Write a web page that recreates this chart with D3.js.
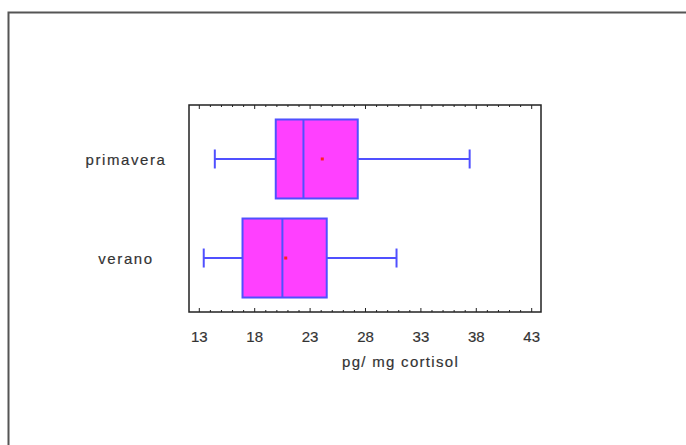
<!DOCTYPE html>
<html><head><meta charset="utf-8">
<script src="https://cdnjs.cloudflare.com/ajax/libs/d3/7.8.5/d3.min.js"></script>
<style>body{margin:0;background:#fff}svg{display:block}text{font-family:"Liberation Sans",Arial,sans-serif;fill:#333;stroke:#333;stroke-width:0.18px}</style>
</head><body>
<script>
const categories = ["primavera", "verano"];
const whiskerLow = [14.4, 13.4];
const q1 = [19.9, 16.9];
const median = [22.4, 20.5];
const q3 = [27.3, 24.5];
const whiskerHigh = [37.4, 30.8];
const means = [24.1, 20.8];
const xTicks = [13, 18, 23, 28, 33, 38, 43];
const xLabel = "pg/ mg cortisol";

(function () {
const W = 686, H = 445;
const svg = d3.select("body").append("svg").attr("width", W).attr("height", H);

// outer frame
svg.append("path").attr("d", `M8.5,${H}V12.5H${W}`).attr("fill","none").attr("stroke","#555").attr("stroke-width",2);

const pl = 189, pr = 541, pt = 105, pb = 312;
const x = d3.scaleLinear().domain([12.07, 43.84]).range([pl, pr]);
const y = d3.scalePoint().domain(categories).range([pt, pb]).padding(0.545);
const boxH = 79;

const minor = d3.range(13, 44, 1);
const g = svg.append("g");
g.selectAll(".mb").data(minor).join("line")
  .attr("x1", d => x(d)).attr("x2", d => x(d))
  .attr("y1", pb).attr("y2", d => pb - (xTicks.includes(d) ? 4 : 2))
  .attr("stroke", "#222").attr("stroke-width", 1);
g.selectAll(".mt").data(minor).join("line")
  .attr("x1", d => x(d)).attr("x2", d => x(d))
  .attr("y1", pt).attr("y2", d => pt + (xTicks.includes(d) ? 4 : 2))
  .attr("stroke", "#222").attr("stroke-width", 1);

svg.append("rect").attr("x", pl).attr("y", pt).attr("width", pr-pl).attr("height", pb-pt)
  .attr("fill","none").attr("stroke","#222").attr("stroke-width",1.5);

svg.selectAll(".tl").data(xTicks).join("text")
  .attr("x", d => x(d)).attr("y", 342).attr("text-anchor","middle").attr("font-size",15).text(d => d);

svg.append("text").attr("x", 342).attr("y", 367).attr("font-size", 15).attr("letter-spacing", 1.3).text(xLabel);

svg.selectAll(".cl").data(categories).join("text")
  .attr("x", 126).attr("y", d => y(d) + 6).attr("text-anchor","middle").attr("font-size",15).attr("letter-spacing", 1.6).text(d => d);

const blue = "#5050ff";
categories.forEach((c, i) => {
  const cy = y(c);
  const gg = svg.append("g");
  gg.append("line").attr("x1", x(whiskerLow[i])).attr("x2", x(q1[i])).attr("y1", cy).attr("y2", cy).attr("stroke", blue).attr("stroke-width", 2);
  gg.append("line").attr("x1", x(q3[i])).attr("x2", x(whiskerHigh[i])).attr("y1", cy).attr("y2", cy).attr("stroke", blue).attr("stroke-width", 2);
  [whiskerLow[i], whiskerHigh[i]].forEach(v => {
    gg.append("line").attr("x1", x(v)).attr("x2", x(v)).attr("y1", cy - 9.5).attr("y2", cy + 9.5).attr("stroke", blue).attr("stroke-width", 2);
  });
  gg.append("rect").attr("x", x(q1[i])).attr("y", cy - boxH/2).attr("width", x(q3[i]) - x(q1[i])).attr("height", boxH)
    .attr("fill", "#ff40ff").attr("stroke", blue).attr("stroke-width", 2);
  gg.append("line").attr("x1", x(median[i])).attr("x2", x(median[i])).attr("y1", cy - boxH/2).attr("y2", cy + boxH/2).attr("stroke", blue).attr("stroke-width", 2);
  gg.append("rect").attr("x", x(means[i]) - 1.5).attr("y", cy - 1.5).attr("width", 3).attr("height", 3).attr("fill", "#ff2020");
});
})();
</script>
</body></html>
